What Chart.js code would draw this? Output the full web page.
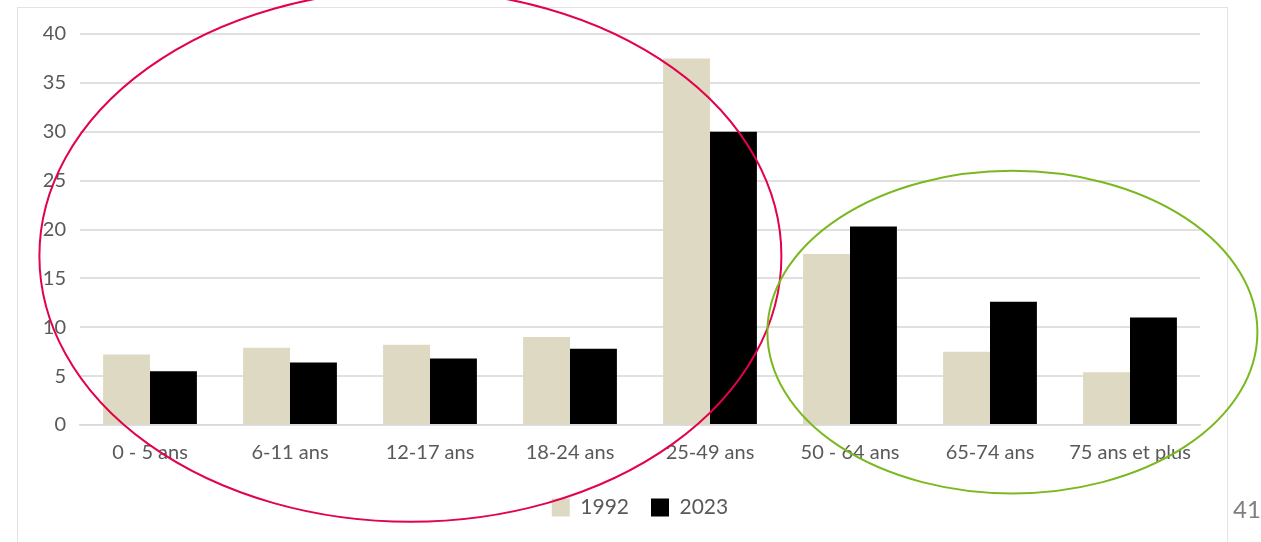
<!DOCTYPE html>
<html><head><meta charset="utf-8">
<script src="https://cdn.jsdelivr.net/npm/chart.js@4"></script>
<style>
html,body{margin:0;padding:0;background:#fff;width:1261px;height:542px;overflow:hidden;}
#frame{position:absolute;left:17px;top:7px;width:1209px;height:560px;border:1.5px solid #e3e3e3;}
#wrap{position:absolute;left:0;top:0;width:1261px;height:542px;}
#page{position:absolute;left:1233px;top:494px;font-family:Lato,'Open Sans',sans-serif;font-size:24px;color:#7f7f7f;}
</style></head><body>
<div id="frame"></div>
<div id="wrap"><canvas id="c" width="1261" height="542"></canvas></div>
<div id="page">41</div>
<script>
const categories = ['0 - 5 ans','6-11 ans','12-17 ans','18-24 ans','25-49 ans','50 - 64 ans','65-74 ans','75 ans et plus'];
const seriesNames = ['1992','2023'];
const values1992 = [7.2, 7.9, 8.2, 9.0, 37.5, 17.5, 7.5, 5.4];
const values2023 = [5.5, 6.4, 6.8, 7.8, 30.0, 20.3, 12.6, 11.0];
const yTicks = [0,5,10,15,20,25,30,35,40];
// annotation ellipses in scale units: [centerIndex, centerValue, radiusIndex, radiusValue, color]
const ellipses = [
  [1.86, 17.3, 2.65, 27.2, '#e2034a'],
  [6.16, 9.5, 1.75, 16.5, '#7ab81f']
];

const font = "Lato, 'Open Sans', sans-serif";
const ellipsePlugin = {
  id:'ellipses',
  afterDraw(chart){
    const {ctx, scales:{x,y}} = chart;
    const unitX = x.getPixelForValue(1) - x.getPixelForValue(0);
    ctx.save();
    ellipses.forEach(e=>{
      const cx = x.getPixelForValue(e[0]);
      const cy = y.getPixelForValue(e[1]);
      const rx = e[2]*unitX;
      const ry = Math.abs(y.getPixelForValue(0)-y.getPixelForValue(e[3]));
      ctx.beginPath();
      ctx.ellipse(cx, cy, rx, ry, 0, 0, Math.PI*2);
      ctx.strokeStyle = e[4];
      ctx.lineWidth = 2;
      ctx.stroke();
    });
    ctx.restore();
  }
};

new Chart(document.getElementById('c'), {
  type:'bar',
  data:{
    labels: categories,
    datasets:[
      {label: seriesNames[0], data: values1992, backgroundColor:'#ddd9c3', borderWidth:0},
      {label: seriesNames[1], data: values2023, backgroundColor:'#000000', borderColor:'#333', borderWidth:0}
    ]
  },
  options:{
    responsive:false,
    animation:false,
    layout:{padding:{left:0,right:61,top:34,bottom:14}},
    categoryPercentage:0.67,
    barPercentage:1.0,
    plugins:{
      legend:{
        position:'bottom',
        fullSize:false,
        labels:{font:{family:font,size:21},color:'#595959',boxWidth:18,boxHeight:18,padding:22,
          generateLabels(chart){
            return chart.data.datasets.map((d,i)=>({text:d.label,fillStyle:d.backgroundColor,strokeStyle:d.backgroundColor,lineWidth:0,datasetIndex:i,fontColor:'#595959'}));
          }}
      },
      tooltip:{enabled:false}
    },
    scales:{
      x:{
        grid:{display:false},
        border:{display:true,color:'#d9d9d9',width:1.5},
        ticks:{font:{family:font,size:20},color:'#595959',padding:8,maxRotation:0,autoSkip:false},
        afterFit(s){s.height=50;}
      },
      y:{
        min:0,max:40,
        afterBuildTicks(s){s.ticks = yTicks.map(v=>({value:v}));},
        grid:{color:'#e0e0e0',lineWidth:2,drawTicks:false},
        border:{display:false},
        ticks:{font:{family:font,size:20},color:'#595959',padding:14},
        afterFit(s){s.width=80;}
      }
    }
  },
  plugins:[ellipsePlugin]
});
</script>
</body></html>
